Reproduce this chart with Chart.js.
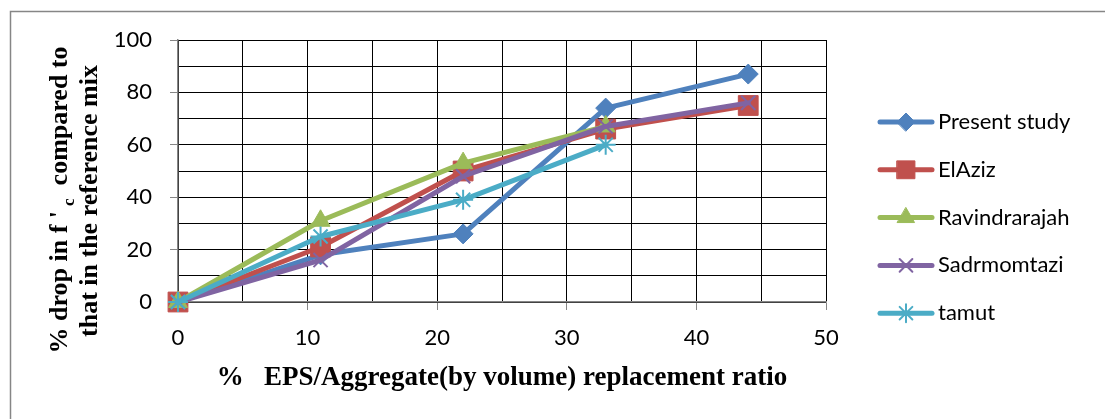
<!DOCTYPE html>
<html>
<head>
<meta charset="utf-8">
<script src="https://cdn.jsdelivr.net/npm/chart.js@4/dist/chart.umd.min.js"></script>
<style>
  body { margin: 0; background: #fff; }
  canvas { display: block; }
</style>
</head>
<body>
<canvas id="eps-chart" width="1105" height="419"></canvas>
<script>
// replacement ratio (%) where each study was measured
var xValues = [0, 11, 22, 33, 44];

// % drop in compressive strength
var presentStudy  = [0, 18, 26, 74, 87];
var elAziz        = [0, 21, 50, 66, 75];
var ravindrarajah = [0, 31, 53, 67, null];
var sadrmomtazi   = [0, 16, 48, 67, 76];
var tamut         = [0, 25, 39, 60, null];

var seriesNames = ['Present study', 'ElAziz', 'Ravindrarajah', 'Sadrmomtazi', 'tamut'];
var yTicks = [0, 20, 40, 60, 80, 100];
var xTicks = [0, 10, 20, 30, 40, 50];

var colors = ['#4F81BD', '#C0504D', '#9BBB59', '#8064A2', '#4BACC6'];
var markers = [
  { style: 'rectRot',  radius: 10, width: 1 },
  { style: 'rect',     radius: 14, width: 1 },
  { style: 'triangle', radius: 11, width: 1 },
  { style: 'crossRot', radius: 10, width: 2 },
  { style: 'star',     radius: 10, width: 2 }
];

function toPoints(values) {
  var pts = [];
  for (var i = 0; i < xValues.length; i++) {
    if (values[i] !== null) pts.push({ x: xValues[i], y: values[i] });
  }
  return pts;
}

var allSeries = [presentStudy, elAziz, ravindrarajah, sadrmomtazi, tamut];
var datasets = allSeries.map(function (values, i) {
  return {
    label: seriesNames[i],
    data: toPoints(values),
    showLine: true,
    clip: false,
    borderColor: colors[i],
    backgroundColor: colors[i],
    borderWidth: 5,
    borderJoinStyle: 'round',
    borderCapStyle: 'round',
    pointStyle: markers[i].style,
    pointRadius: markers[i].radius,
    pointHoverRadius: markers[i].radius,
    pointBorderWidth: markers[i].width,
    pointBorderColor: colors[i],
    pointBackgroundColor: colors[i],
    order: allSeries.length - i   // later series on top, like Excel
  };
});

var axisGray = '#868686';
var tickFont = { family: 'Lato', size: 22 };

// outer frame, y title (with subscript c) and the legend
var decorations = {
  id: 'decorations',
  beforeDraw: function (chart) {
    var ctx = chart.ctx;
    ctx.save();
    ctx.fillStyle = '#fff';
    ctx.fillRect(0, 0, chart.width, chart.height);
    ctx.strokeStyle = axisGray;
    ctx.lineWidth = 1.5;
    ctx.beginPath();
    ctx.moveTo(10.5, chart.height);
    ctx.lineTo(10.5, 11.5);
    ctx.lineTo(chart.width, 11.5);
    ctx.stroke();
    ctx.restore();
  },
  afterDraw: function (chart) {
    var ctx = chart.ctx;
    ctx.save();

    // Y axis title, two rotated lines
    var font = 'bold 26px "Liberation Serif"';
    var subFont = 'bold 17px "Liberation Serif"';
    ctx.fillStyle = '#000';
    ctx.textBaseline = 'middle';
    ctx.textAlign = 'left';

    ctx.save();
    ctx.translate(60, 200);
    ctx.rotate(-Math.PI / 2);
    var p1 = "% drop in f '", p2 = 'c', p3 = '  compared to';
    ctx.font = font;
    var w1 = ctx.measureText(p1).width, w3 = ctx.measureText(p3).width;
    ctx.font = subFont;
    var w2 = ctx.measureText(p2).width + 5;
    var start = -(w1 + w2 + w3) / 2;
    ctx.font = font;
    ctx.fillText(p1, start, 0);
    ctx.font = subFont;
    ctx.fillText(p2, start + w1 + 5, 10);
    ctx.font = font;
    ctx.fillText(p3, start + w1 + w2, 0);
    ctx.restore();

    ctx.save();
    ctx.translate(90, 201);
    ctx.rotate(-Math.PI / 2);
    ctx.font = font;
    ctx.textAlign = 'center';
    ctx.fillText('that in the reference mix', 0, 0);
    ctx.restore();

    // legend: line sample with marker, then name
    for (var i = 0; i < seriesNames.length; i++) {
      var y = 122 + i * 47.8;
      ctx.strokeStyle = colors[i];
      ctx.lineWidth = 5;
      ctx.lineCap = 'round';
      ctx.beginPath();
      ctx.moveTo(880, y);
      ctx.lineTo(932, y);
      ctx.stroke();
      ctx.fillStyle = colors[i];
      ctx.strokeStyle = colors[i];
      ctx.lineWidth = markers[i].width;
      Chart.helpers.drawPoint(ctx, {
        pointStyle: markers[i].style,
        radius: markers[i].radius * 0.9,
        rotation: 0,
        borderWidth: markers[i].width
      }, 906, y);
      ctx.fillStyle = '#000';
      ctx.font = '22px Lato';
      ctx.textAlign = 'left';
      ctx.textBaseline = 'middle';
      ctx.fillText(seriesNames[i], 938, y);
    }
    ctx.restore();
  }
};

new Chart(document.getElementById('eps-chart'), {
  type: 'scatter',
  data: { datasets: datasets },
  options: {
    responsive: false,
    animation: false,
    layout: { padding: { left: 0, top: 40, right: 279, bottom: 0 } },
    plugins: {
      legend: { display: false },
      tooltip: { enabled: false }
    },
    scales: {
      x: {
        type: 'linear',
        min: 0,
        max: 50,
        afterFit: function (scale) { scale.height = 117; },
        afterBuildTicks: function (scale) {
          var t = [];
          for (var v = 0; v <= 50; v += 5) t.push({ value: v });
          scale.ticks = t;
        },
        ticks: {
          font: tickFont,
          color: '#000',
          padding: 15,
          maxRotation: 0,
          autoSkip: false,
          callback: function (v) { return xTicks.indexOf(v) >= 0 ? String(v) : ''; }
        },
        grid: {
          color: '#000',
          lineWidth: 1,
          tickLength: 8,
          tickColor: function (c) { return c.tick && c.tick.value % 10 === 0 ? axisGray : 'rgba(0,0,0,0)'; }
        },
        border: { color: axisGray, width: 1.5 },
        title: {
          display: true,
          text: '%   EPS/Aggregate(by volume) replacement ratio',
          font: { family: 'Liberation Serif', size: 27, weight: 'bold', lineHeight: 1.2 },
          color: '#000',
          padding: { top: 0, bottom: 25 }
        }
      },
      y: {
        min: 0,
        max: 100,
        afterFit: function (scale) { scale.width = 178; },
        afterBuildTicks: function (scale) {
          var t = [];
          for (var v = 0; v <= 100; v += 10) t.push({ value: v });
          scale.ticks = t;
        },
        ticks: {
          font: tickFont,
          color: '#000',
          padding: 18,
          autoSkip: false,
          callback: function (v) { return yTicks.indexOf(v) >= 0 ? String(v) : ''; }
        },
        grid: {
          color: '#000',
          lineWidth: 1,
          tickLength: 8,
          tickColor: function (c) { return c.tick && c.tick.value % 20 === 0 ? axisGray : 'rgba(0,0,0,0)'; }
        },
        border: { color: axisGray, width: 1.5 }
      }
    }
  },
  plugins: [decorations]
});
</script>
</body>
</html>
